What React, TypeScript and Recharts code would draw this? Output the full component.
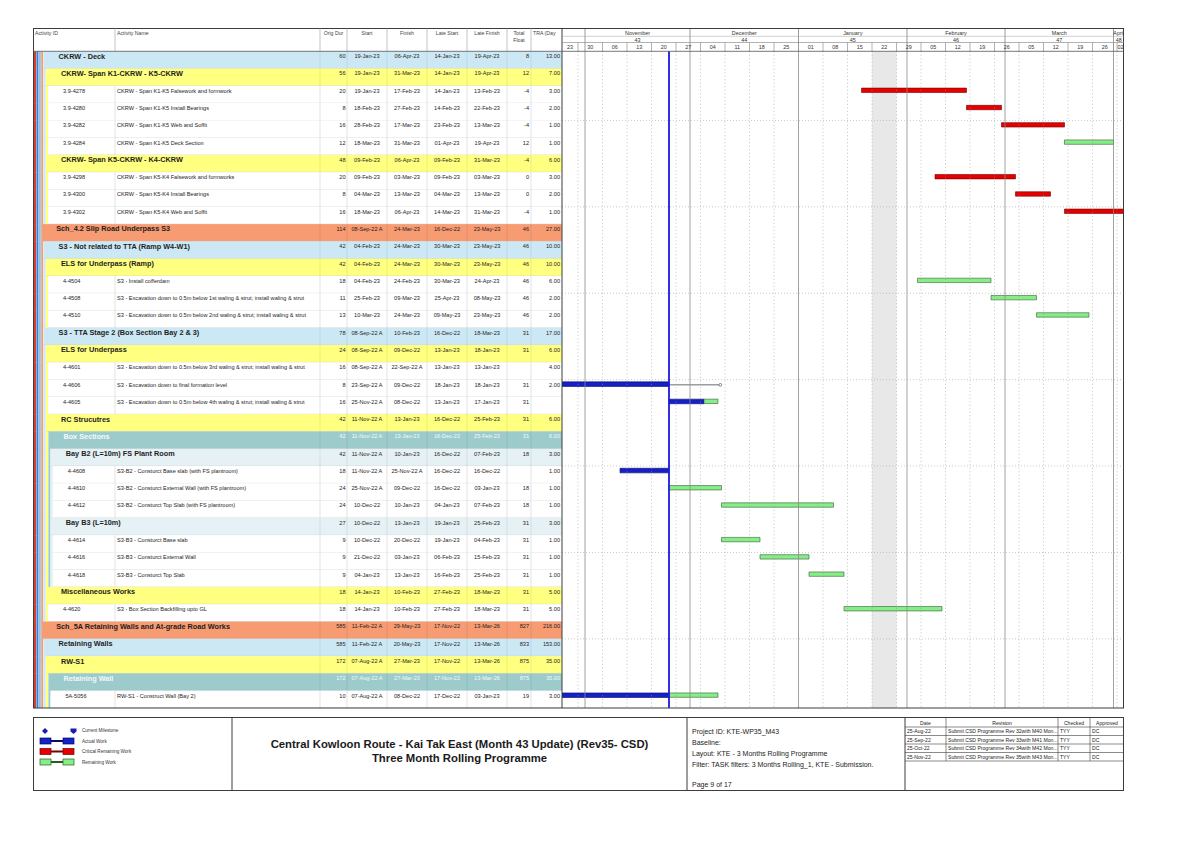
import React from 'react';
import { BarChart, Bar, XAxis, YAxis, ReferenceLine, ReferenceArea, Rectangle } from 'recharts';

// ---------- table data ----------
// G = summary row (WBS level), T = activity row (level of its parent)
const rowTypes = ['G4', 'G5', 'T5', 'T5', 'T5', 'T5', 'G5', 'T5', 'T5', 'T5', 'G3', 'G4', 'G5', 'T5', 'T5', 'T5', 'G4', 'G5', 'T5', 'T5', 'T5', 'G5', 'G6', 'G7', 'T7', 'T7', 'T7', 'G7', 'T7', 'T7', 'T7', 'G5', 'T5', 'G3', 'G4', 'G5', 'G6', 'T6'];

const activityIds = ['', '', '3.9-4278', '3.9-4280', '3.9-4282', '3.9-4284', '', '3.9-4298', '3.9-4300', '3.9-4302', '', '', '', '4-4504', '4-4508', '4-4510', '', '', '4-4601', '4-4606', '4-4605', '', '', '', '4-4608', '4-4610', '4-4612', '', '4-4614', '4-4616', '4-4618', '', '4-4620', '', '', '', '', '5A-5056'];

const activityNames = [
  'CKRW - Deck',
  'CKRW- Span K1-CKRW - K5-CKRW',
  'CKRW - Span K1-K5 Falsework and formwork',
  'CKRW - Span K1-K5 Install Bearings',
  'CKRW - Span K1-K5 Web and Soffit',
  'CKRW - Span K1-K5 Deck Section',
  'CKRW- Span K5-CKRW - K4-CKRW',
  'CKRW - Span K5-K4 Falsework and formworks',
  'CKRW - Span K5-K4 Install Bearings',
  'CKRW - Span K5-K4 Web and Soffit',
  'Sch_4.2 Slip Road Underpass S3',
  'S3 - Not related to TTA (Ramp W4-W1)',
  'ELS for Underpass (Ramp)',
  'S3 - Install cofferdam',
  'S3 - Excavation down to 0.5m below 1st waling & strut; install waling & strut',
  'S3 - Excavation down to 0.5m below 2nd waling & strut; install waling & strut',
  'S3 - TTA Stage 2 (Box Section Bay 2 & 3)',
  'ELS for Underpass',
  'S3 - Excavation down to 0.5m below 3rd waling & strut; install waling & strut',
  'S3 - Excavation down to final formation level',
  'S3 - Excavation down to 0.5m below 4th waling & strut; install waling & strut',
  'RC Strucutres',
  'Box Sections',
  'Bay B2 (L=10m) FS Plant Room',
  'S3-B2 - Consturct Base slab (with FS plantroom)',
  'S3-B2 - Consturct External Wall (with FS plantroom)',
  'S3-B2 - Consturct Top Slab (with FS plantroom)',
  'Bay B3 (L=10m)',
  'S3-B3 - Consturct Base slab',
  'S3-B3 - Consturct External Wall',
  'S3-B3 - Consturct Top Slab',
  'Miscellaneous Works',
  'S3 - Box Section Backfilling upto GL',
  'Sch_5A Retaining Walls and At-grade Road Works',
  'Retaining Walls',
  'RW-S1',
  'Retaining Wall',
  'RW-S1 - Construct Wall (Bay 2)',
];

const origDur = [60, 56, 20, 8, 16, 12, 48, 20, 8, 16, 114, 42, 42, 18, 11, 13, 78, 24, 16, 8, 16, 42, 42, 42, 18, 24, 24, 27, 9, 9, 9, 18, 18, 585, 585, 172, 172, 10];

const startDates = ['19-Jan-23', '19-Jan-23', '19-Jan-23', '18-Feb-23', '28-Feb-23', '18-Mar-23', '09-Feb-23', '09-Feb-23', '04-Mar-23', '18-Mar-23', '08-Sep-22 A', '04-Feb-23', '04-Feb-23', '04-Feb-23', '25-Feb-23', '10-Mar-23', '08-Sep-22 A', '08-Sep-22 A', '08-Sep-22 A', '23-Sep-22 A', '25-Nov-22 A', '11-Nov-22 A', '11-Nov-22 A', '11-Nov-22 A', '11-Nov-22 A', '25-Nov-22 A', '10-Dec-22', '10-Dec-22', '10-Dec-22', '21-Dec-22', '04-Jan-23', '14-Jan-23', '14-Jan-23', '11-Feb-22 A', '11-Feb-22 A', '07-Aug-22 A', '07-Aug-22 A', '07-Aug-22 A'];

const finishDates = ['06-Apr-23', '31-Mar-23', '17-Feb-23', '27-Feb-23', '17-Mar-23', '31-Mar-23', '06-Apr-23', '03-Mar-23', '13-Mar-23', '06-Apr-23', '24-Mar-23', '24-Mar-23', '24-Mar-23', '24-Feb-23', '09-Mar-23', '24-Mar-23', '10-Feb-23', '09-Dec-22', '22-Sep-22 A', '09-Dec-22', '08-Dec-22', '13-Jan-23', '13-Jan-23', '10-Jan-23', '25-Nov-22 A', '09-Dec-22', '10-Jan-23', '13-Jan-23', '20-Dec-22', '03-Jan-23', '13-Jan-23', '10-Feb-23', '10-Feb-23', '29-May-23', '20-May-23', '27-Mar-23', '27-Mar-23', '08-Dec-22'];

const lateStarts = ['14-Jan-23', '14-Jan-23', '14-Jan-23', '14-Feb-23', '23-Feb-23', '01-Apr-23', '09-Feb-23', '09-Feb-23', '04-Mar-23', '14-Mar-23', '16-Dec-22', '30-Mar-23', '30-Mar-23', '30-Mar-23', '25-Apr-23', '09-May-23', '16-Dec-22', '13-Jan-23', '13-Jan-23', '18-Jan-23', '13-Jan-23', '16-Dec-22', '16-Dec-22', '16-Dec-22', '16-Dec-22', '16-Dec-22', '04-Jan-23', '19-Jan-23', '19-Jan-23', '06-Feb-23', '16-Feb-23', '27-Feb-23', '27-Feb-23', '17-Nov-22', '17-Nov-22', '17-Nov-22', '17-Nov-22', '17-Dec-22'];

const lateFinishes = ['19-Apr-23', '19-Apr-23', '13-Feb-23', '22-Feb-23', '13-Mar-23', '19-Apr-23', '31-Mar-23', '03-Mar-23', '13-Mar-23', '31-Mar-23', '23-May-23', '23-May-23', '23-May-23', '24-Apr-23', '08-May-23', '23-May-23', '18-Mar-23', '18-Jan-23', '13-Jan-23', '18-Jan-23', '17-Jan-23', '25-Feb-23', '25-Feb-23', '07-Feb-23', '16-Dec-22', '03-Jan-23', '07-Feb-23', '25-Feb-23', '04-Feb-23', '15-Feb-23', '25-Feb-23', '18-Mar-23', '18-Mar-23', '13-Mar-26', '13-Mar-26', '13-Mar-26', '13-Mar-26', '03-Jan-23'];

const totalFloat = ['8', '12', '-4', '-4', '-4', '12', '-4', '0', '0', '-4', '46', '46', '46', '46', '46', '46', '31', '31', '', '31', '31', '31', '31', '18', '', '18', '18', '31', '31', '31', '31', '31', '31', '827', '833', '875', '875', '19'];

const traDays = ['13.00', '7.00', '3.00', '2.00', '1.00', '1.00', '6.00', '3.00', '2.00', '1.00', '27.00', '10.00', '10.00', '6.00', '2.00', '2.00', '17.00', '6.00', '4.00', '2.00', '', '6.00', '6.00', '3.00', '1.00', '1.00', '1.00', '3.00', '1.00', '1.00', '1.00', '5.00', '5.00', '216.00', '153.00', '35.00', '35.00', '3.00'];

// ---------- bar segments (inclusive dates) ----------
const actualWork = [
  { id: '4-4606', from: '23-Sep-22', to: '24-Nov-22' },
  { id: '4-4605', from: '25-Nov-22', to: '04-Dec-22' },
  { id: '4-4608', from: '11-Nov-22', to: '24-Nov-22' },
  { id: '5A-5056', from: '07-Aug-22', to: '24-Nov-22' },
];

const remainingWork = [
  { id: '3.9-4278', from: '19-Jan-23', to: '17-Feb-23' },
  { id: '3.9-4280', from: '18-Feb-23', to: '27-Feb-23' },
  { id: '3.9-4282', from: '28-Feb-23', to: '17-Mar-23' },
  { id: '3.9-4284', from: '18-Mar-23', to: '31-Mar-23' },
  { id: '3.9-4298', from: '09-Feb-23', to: '03-Mar-23' },
  { id: '3.9-4300', from: '04-Mar-23', to: '13-Mar-23' },
  { id: '3.9-4302', from: '18-Mar-23', to: '06-Apr-23' },
  { id: '4-4504', from: '04-Feb-23', to: '24-Feb-23' },
  { id: '4-4508', from: '25-Feb-23', to: '09-Mar-23' },
  { id: '4-4510', from: '10-Mar-23', to: '24-Mar-23' },
  { id: '4-4605', from: '05-Dec-22', to: '08-Dec-22' },
  { id: '4-4610', from: '25-Nov-22', to: '09-Dec-22' },
  { id: '4-4612', from: '10-Dec-22', to: '10-Jan-23' },
  { id: '4-4614', from: '10-Dec-22', to: '20-Dec-22' },
  { id: '4-4616', from: '21-Dec-22', to: '03-Jan-23' },
  { id: '4-4618', from: '04-Jan-23', to: '13-Jan-23' },
  { id: '4-4620', from: '14-Jan-23', to: '10-Feb-23' },
  { id: '5A-5056', from: '25-Nov-22', to: '08-Dec-22' },
];

const thinRemaining = [{ id: '4-4606', from: '25-Nov-22', to: '09-Dec-22' }];

// ---------- timescale ----------
const monthNames = ['', 'November', 'December', 'January', 'February', 'March', 'April'];
const monthNumbers = ['', '43', '44', '45', '46', '47', '48'];
const monthStarts = ['01-Oct-22', '01-Nov-22', '01-Dec-22', '01-Jan-23', '01-Feb-23', '01-Mar-23', '01-Apr-23'];
const weekStarts = ['23-Oct-22', '30-Oct-22', '06-Nov-22', '13-Nov-22', '20-Nov-22', '27-Nov-22', '04-Dec-22', '11-Dec-22', '18-Dec-22', '25-Dec-22', '01-Jan-23', '08-Jan-23', '15-Jan-23', '22-Jan-23', '29-Jan-23', '05-Feb-23', '12-Feb-23', '19-Feb-23', '26-Feb-23', '05-Mar-23', '12-Mar-23', '19-Mar-23', '26-Mar-23', '02-Apr-23'];
const dataDate = '25-Nov-22';
const holidayStart = '22-Jan-23';
const holidayEnd = '28-Jan-23';
const sightLineRows = [4, 9, 14, 19, 24, 29, 34];

// ---------- footer data ----------
const revDates = ['25-Aug-22', '25-Sep-22', '25-Oct-22', '25-Nov-22'];
const revTexts = ['Submit CSD Programme Rev 32with M40 Mon...', 'Submit CSD Programme Rev 33with M41 Mon...', 'Submit CSD Programme Rev 34with M42 Mon...', 'Submit CSD Programme Rev 35with M43 Mon...'];
const revChecked = ['TYY', 'TYY', 'TYY', 'TYY'];
const revApproved = ['DC', 'DC', 'DC', 'DC'];
const projectLines = ['Project ID: KTE-WP35_M43', 'Baseline:', 'Layout: KTE - 3 Months Rolling Programme', 'Filter: TASK filters: 3 Months Rolling_1, KTE - Submission.'];

// ---------- helpers ----------
const MON: Record<string, number> = { Jan: 0, Feb: 1, Mar: 2, Apr: 3, May: 4, Jun: 5, Jul: 6, Aug: 7, Sep: 8, Oct: 9, Nov: 10, Dec: 11 };
const dayNum = (s: string) => {
  const [d, m, y] = s.replace(' A', '').split('-');
  return (Date.UTC(2000 + Number(y), MON[m], Number(d)) - Date.UTC(2022, 9, 1)) / 86400000;
};

const FONT = '"Liberation Sans", Arial, sans-serif';
const OX = 33;
const OY = 28;
const CHART_W = 1091;
const CHART_H = 680;
const HEADER_H = 23.3;
const TABLE_W = 529;
const PX_DAY = 3.5;
const ROW_H = (CHART_H - HEADER_H) / rowTypes.length;
const TEXT_DY = 4.85;
const BAR_SHIFT = ROW_H / 2 - TEXT_DY;
const VIEW_START = dayNum('01-Nov-22') - 23 / PX_DAY;
const VIEW_END = VIEW_START + (CHART_W - TABLE_W) / PX_DAY;

const levelColors = ['#d8402e', '#3b7bd4', '#86c2ea', '#f79b72', '#cde8f5', '#ffff80', '#9dcbcb', '#e5f1f4'];
const STRIPE_X = 34;
const STRIPE_W = 2.4;
const colLines = [320, 347, 387, 427, 467, 507, 531];
const sx = (px: number) => px - OX;

const span = (from: string, to: string): [number, number] => [
  Math.max(dayNum(from), VIEW_START),
  Math.min(dayNum(to) + 1, VIEW_END),
];

const chartRows = activityNames.map((_, i) => {
  const id = activityIds[i];
  const a = actualWork.find((s) => s.id === id);
  const r = remainingWork.find((s) => s.id === id);
  const t = thinRemaining.find((s) => s.id === id);
  const crit = totalFloat[i] !== '' && Number(totalFloat[i]) <= 0;
  return {
    idx: i,
    actual: a ? span(a.from, a.to) : null,
    critical: r && crit ? span(r.from, r.to) : null,
    normal: r && !crit ? span(r.from, r.to) : null,
    thin: t ? span(t.from, t.to) : null,
  };
});

// header ticks: month boundaries/labels and week boundaries/labels
type HT = { v: number; kind: 'mline' | 'mlabel' | 'wline' | 'wlabel'; a?: string; b?: string };
const headerTicks: HT[] = [];
monthStarts.forEach((m, i) => {
  const s = dayNum(m);
  const e = i + 1 < monthStarts.length ? dayNum(monthStarts[i + 1]) : VIEW_END;
  const vs = Math.max(s, VIEW_START);
  const ve = Math.min(e, VIEW_END);
  if (s > VIEW_START) headerTicks.push({ v: s, kind: 'mline' });
  if (monthNames[i]) headerTicks.push({ v: (vs + ve) / 2, kind: 'mlabel', a: monthNames[i], b: monthNumbers[i] });
});
const monthDays = monthStarts.map(dayNum);
weekStarts.forEach((w) => {
  const s = dayNum(w);
  const vs = Math.max(s, VIEW_START);
  const ve = Math.min(s + 7, VIEW_END);
  if (s > VIEW_START && !monthDays.includes(s)) headerTicks.push({ v: s, kind: 'wline' });
  headerTicks.push({ v: (vs + ve) / 2, kind: 'wlabel', a: w.slice(0, 2) });
});
const tickMap = new Map(headerTicks.map((t) => [t.v, t]));

const HeaderTick = (props: any) => {
  const { x, payload } = props;
  const t = tickMap.get(payload.value);
  if (!t) return <g />;
  if (t.kind === 'mline') return <line x1={x} x2={x} y1={0} y2={HEADER_H} stroke="#808080" strokeWidth={0.8} />;
  if (t.kind === 'wline') return <line x1={x} x2={x} y1={14.5} y2={HEADER_H} stroke="#808080" strokeWidth={0.6} />;
  if (t.kind === 'mlabel')
    return (
      <g fontFamily={FONT} fontSize={5.4} fill="#333" textAnchor="middle">
        <text x={x} y={4.6} dominantBaseline="central">{t.a}</text>
        <text x={x} y={11.5} dominantBaseline="central">{t.b}</text>
      </g>
    );
  return (
    <text x={x} y={19} fontFamily={FONT} fontSize={5.4} fill="#333" textAnchor="middle" dominantBaseline="central">
      {t.a}
    </text>
  );
};

const RowTick = (props: any) => {
  const { y, payload } = props;
  const i = Number(payload.value);
  const type = rowTypes[i];
  const task = type[0] === 'T';
  const lvl = Number(type.slice(1));
  const fillLvl = task ? lvl + 1 : lvl;
  const top = y - ROW_H / 2;
  const bgX = STRIPE_X + STRIPE_W * fillLvl;
  const ty = top + TEXT_DY;
  const white = !task && lvl === 6;
  const color = white ? '#f2fafa' : '#1e1e1e';
  const stripes = [];
  for (let k = 0; k < fillLvl; k++) {
    stripes.push(<rect key={k} x={sx(STRIPE_X + STRIPE_W * k)} y={top} width={STRIPE_W - 0.4} height={ROW_H + 0.3} fill={levelColors[k]} />);
  }
  const num = { fontFamily: FONT, fontSize: 5.6, fill: color, dominantBaseline: 'central' as const };
  return (
    <g>
      {stripes}
      <rect x={sx(bgX)} y={top} width={562 - bgX} height={ROW_H + 0.3} fill={task ? '#ffffff' : levelColors[lvl]} />
      <line x1={sx(bgX)} x2={sx(562)} y1={top + ROW_H} y2={top + ROW_H} stroke="#cfcfcf" strokeWidth={0.6} />
      {colLines.map((c) => (
        <line key={c} x1={sx(c)} x2={sx(c)} y1={top} y2={top + ROW_H} stroke={task ? '#d2d2d2' : 'rgba(0,0,0,0.12)'} strokeWidth={0.6} />
      ))}
      {task && <line x1={sx(115)} x2={sx(115)} y1={top} y2={top + ROW_H} stroke="#d2d2d2" strokeWidth={0.6} />}
      {task ? (
        <>
          <text x={sx(bgX + 14.6)} y={ty} {...num}>{activityIds[i]}</text>
          <text x={sx(117)} y={ty} {...num}>{activityNames[i]}</text>
        </>
      ) : (
        <text x={sx(bgX + 15)} y={ty} fontFamily={FONT} fontSize={7.3} fontWeight="bold" fill={color} dominantBaseline="central">
          {activityNames[i]}
        </text>
      )}
      <text x={sx(345.5)} y={ty} {...num} textAnchor="end">{origDur[i]}</text>
      <text x={sx(367)} y={ty} {...num} textAnchor="middle">{startDates[i]}</text>
      <text x={sx(407)} y={ty} {...num} textAnchor="middle">{finishDates[i]}</text>
      <text x={sx(447)} y={ty} {...num} textAnchor="middle">{lateStarts[i]}</text>
      <text x={sx(487)} y={ty} {...num} textAnchor="middle">{lateFinishes[i]}</text>
      <text x={sx(529)} y={ty} {...num} textAnchor="end">{totalFloat[i]}</text>
      <text x={sx(560)} y={ty} {...num} textAnchor="end">{traDays[i]}</text>
    </g>
  );
};

const ShiftedBar = (p: any) => <Rectangle {...p} y={p.y - BAR_SHIFT} />;

const ThinBar = (p: any) => {
  const cy = p.y + p.height / 2 - BAR_SHIFT;
  const x2 = p.x + p.width;
  return (
    <g>
      <line x1={p.x} x2={x2 - 1.5} y1={cy} y2={cy} stroke="#5a5a5a" strokeWidth={0.9} />
      <circle cx={x2 - 1.2} cy={cy} r={1.4} fill="#fff" stroke="#5a5a5a" strokeWidth={0.7} />
    </g>
  );
};

const tableHeaders = [
  { t: 'Activity ID', x: 35, anchor: 'start' },
  { t: 'Activity Name', x: 117, anchor: 'start' },
  { t: 'Orig Dur', x: 333.5, anchor: 'middle' },
  { t: 'Start', x: 367, anchor: 'middle' },
  { t: 'Finish', x: 407, anchor: 'middle' },
  { t: 'Late Start', x: 447, anchor: 'middle' },
  { t: 'Late Finish', x: 487, anchor: 'middle' },
  { t: 'TRA (Day', x: 533, anchor: 'start' },
];

const LegendGlyph = ({ y, fill, stroke, link }: { y: number; fill: string; stroke: string; link: string }) => (
  <g>
    <rect x={40} y={y - 3} width={11} height={6} fill={fill} stroke={stroke} strokeWidth={0.7} />
    <rect x={51} y={y - 1} width={12} height={2} fill={link} />
    <rect x={63} y={y - 3} width={11} height={6} fill={fill} stroke={stroke} strokeWidth={0.7} />
  </g>
);

const Overlay = () => (
  <svg width={1191} height={842} style={{ position: 'absolute', left: 0, top: 0, pointerEvents: 'none' }} fontFamily={FONT}>
    {/* chart frame */}
    <rect x={33.5} y={28.5} width={1090} height={679.5} fill="none" stroke="#3c3c3c" strokeWidth={1} />
    <line x1={562} x2={562} y1={28} y2={708} stroke="#3c3c3c" strokeWidth={1} />
    <line x1={33} x2={1124} y1={51.3} y2={51.3} stroke="#555" strokeWidth={0.8} />
    <line x1={562} x2={1124} y1={36.3} y2={36.3} stroke="#a0a0a0" strokeWidth={0.5} />
    <line x1={562} x2={1124} y1={42.5} y2={42.5} stroke="#808080" strokeWidth={0.6} />
    {/* table header */}
    {[115, ...colLines].map((c) => (
      <line key={c} x1={c} x2={c} y1={28} y2={51.3} stroke="#9a9a9a" strokeWidth={0.6} />
    ))}
    {tableHeaders.map((h) => (
      <text key={h.t} x={h.x} y={32.5} fontSize={5.2} fill="#444" textAnchor={h.anchor as any} dominantBaseline="central">
        {h.t}
      </text>
    ))}
    <text x={519} y={32.5} fontSize={5.2} fill="#444" textAnchor="middle" dominantBaseline="central">Total</text>
    <text x={519} y={39.5} fontSize={5.2} fill="#444" textAnchor="middle" dominantBaseline="central">Float</text>

    {/* footer */}
    <rect x={33.5} y={717.5} width={1090} height={73} fill="none" stroke="#3c3c3c" strokeWidth={1} />
    <line x1={232} x2={232} y1={717} y2={791} stroke="#3c3c3c" />
    <line x1={687} x2={687} y1={717} y2={791} stroke="#3c3c3c" />
    <line x1={905} x2={905} y1={717} y2={791} stroke="#3c3c3c" />

    {/* legend */}
    <path d="M45 728 L48 731 L45 734 L42 731 Z" fill="#1b1bb3" />
    <path d="M70.5 728.5 L76.5 728.5 L76.5 731.5 L73.5 734 L70.5 731.5 Z" fill="#1b1bb3" />
    <text x={82} y={730.5} fontSize={4.6} fill="#333" dominantBaseline="central">Current Milestone</text>
    <LegendGlyph y={741} fill="#1420c8" stroke="#0a0a60" link="#0a0a70" />
    <text x={82} y={741} fontSize={4.6} fill="#333" dominantBaseline="central">Actual Work</text>
    <LegendGlyph y={751.5} fill="#e60000" stroke="#700000" link="#7a0000" />
    <text x={82} y={751.5} fontSize={4.6} fill="#333" dominantBaseline="central">Critical Remaining Work</text>
    <LegendGlyph y={762} fill="#86ee86" stroke="#2d5a2d" link="#2d5a2d" />
    <text x={82} y={762} fontSize={4.6} fill="#333" dominantBaseline="central">Remaining Work</text>

    {/* title */}
    <text x={459.5} y={744} fontSize={11.3} fontWeight="bold" fill="#1a1a1a" textAnchor="middle" dominantBaseline="central">
      Central Kowloon Route - Kai Tak East (Month 43 Update) (Rev35- CSD)
    </text>
    <text x={459.5} y={757.5} fontSize={11.3} fontWeight="bold" fill="#1a1a1a" textAnchor="middle" dominantBaseline="central">
      Three Month Rolling Programme
    </text>

    {/* project info */}
    {projectLines.map((l, i) => (
      <text key={l} x={692} y={731 + i * 11} fontSize={7} fill="#222" dominantBaseline="central">{l}</text>
    ))}
    <text x={692} y={784} fontSize={7} fill="#222" dominantBaseline="central">Page 9 of 17</text>

    {/* revision table */}
    {[727, 735.5, 744, 752.5, 761].map((ly) => (
      <line key={ly} x1={905} x2={1124} y1={ly} y2={ly} stroke="#3c3c3c" strokeWidth={0.6} />
    ))}
    {[946, 1058, 1090].map((lx) => (
      <line key={lx} x1={lx} x2={lx} y1={717} y2={761} stroke="#3c3c3c" strokeWidth={0.6} />
    ))}
    <g fontSize={5.1} fill="#222" dominantBaseline="central">
      <text x={925.5} y={722.5} textAnchor="middle">Date</text>
      <text x={1002} y={722.5} textAnchor="middle">Revision</text>
      <text x={1074} y={722.5} textAnchor="middle">Checked</text>
      <text x={1107} y={722.5} textAnchor="middle">Approved</text>
      {revDates.map((d, i) => (
        <g key={d}>
          <text x={907} y={731.3 + i * 8.5}>{d}</text>
          <text x={948} y={731.3 + i * 8.5}>{revTexts[i]}</text>
          <text x={1060} y={731.3 + i * 8.5}>{revChecked[i]}</text>
          <text x={1092} y={731.3 + i * 8.5}>{revApproved[i]}</text>
        </g>
      ))}
    </g>
  </svg>
);

export default function App() {
  const monthLineDays = monthStarts.map(dayNum).filter((d) => d > VIEW_START && d < VIEW_END);
  const weekLineDays = weekStarts.map(dayNum).filter((d) => d > VIEW_START && d < VIEW_END && !monthLineDays.includes(d));
  return (
    <div style={{ position: 'absolute', left: 0, top: 0, width: 1191, height: 842, background: '#fff' }}>
      <div style={{ position: 'absolute', left: OX, top: OY, width: CHART_W, height: CHART_H }}>
        <BarChart
          layout="vertical"
          width={CHART_W}
          height={CHART_H}
          data={chartRows}
          margin={{ top: 0, right: 0, bottom: 0, left: 0 }}
          barCategoryGap={0}
        >
          <XAxis
            type="number"
            orientation="top"
            domain={[VIEW_START, VIEW_END]}
            allowDataOverflow
            ticks={headerTicks.map((t) => t.v)}
            tick={(p: any) => <HeaderTick {...p} />}
            interval={0}
            height={HEADER_H}
            axisLine={false}
            tickLine={false}
          />
          <YAxis type="category" dataKey="idx" width={TABLE_W} interval={0} axisLine={false} tickLine={false} tick={(p: any) => <RowTick {...p} />} />
          <YAxis yAxisId="crit" type="category" dataKey="idx" hide />
          <YAxis yAxisId="norm" type="category" dataKey="idx" hide />
          <YAxis yAxisId="thin" type="category" dataKey="idx" hide />

          <ReferenceArea x1={dayNum(holidayStart)} x2={dayNum(holidayEnd) + 1} fill="#e8e8e8" fillOpacity={1} stroke="none" />
          {weekLineDays.map((d) => (
            <ReferenceLine key={`w${d}`} x={d} stroke="#9a9a9a" strokeWidth={0.6} strokeDasharray="1 2.5" />
          ))}
          {monthLineDays.map((d) => (
            <ReferenceLine key={`m${d}`} x={d} stroke="#8a8a8a" strokeWidth={0.8} />
          ))}
          {sightLineRows.map((r) => (
            <ReferenceLine key={`h${r}`} y={r} position="start" stroke="#a8a8a8" strokeWidth={0.6} strokeDasharray="1 2" />
          ))}

          <Bar dataKey="actual" barSize={4.6} fill="#1420c8" stroke="#0a0a60" strokeWidth={0.6} shape={ShiftedBar} isAnimationActive={false} />
          <Bar dataKey="critical" yAxisId="crit" barSize={4.4} fill="#e60000" stroke="#700000" strokeWidth={0.6} shape={ShiftedBar} isAnimationActive={false} />
          <Bar dataKey="normal" yAxisId="norm" barSize={4.4} fill="#86ee86" stroke="#3a5a3a" strokeWidth={0.6} shape={ShiftedBar} isAnimationActive={false} />
          <Bar dataKey="thin" yAxisId="thin" barSize={2} fill="#5a5a5a" shape={ThinBar} isAnimationActive={false} />

          <ReferenceLine x={dayNum(dataDate)} stroke="#1a1ae0" strokeWidth={1.8} />
        </BarChart>
      </div>
      <Overlay />
    </div>
  );
}
